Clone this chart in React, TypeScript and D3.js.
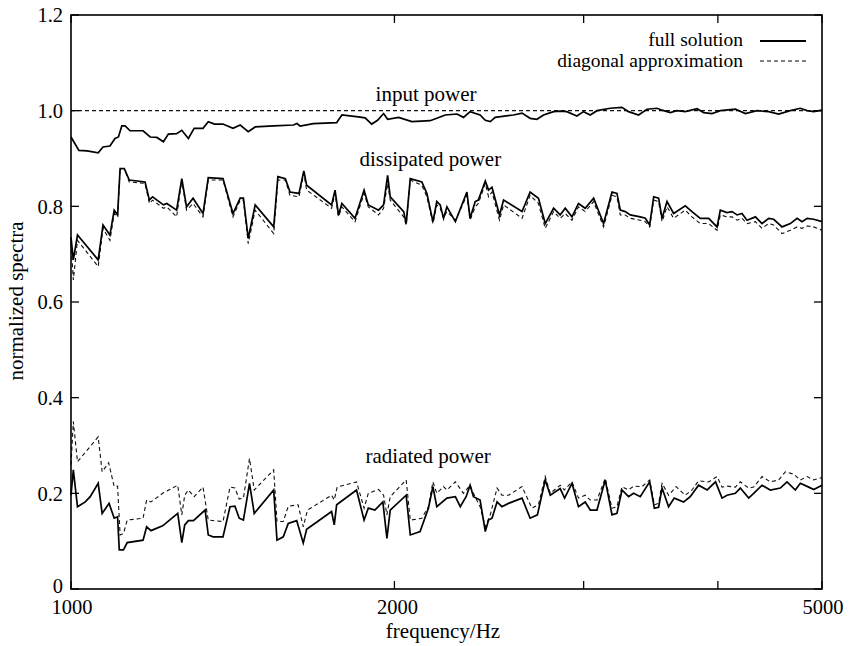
import React from "react";
import * as d3 from "d3";

// ---- data (frequency in Hz, normalized spectrum) ----
const inputFull: [number, number][] = [
  [1000,0.945],[1017,0.917],[1035,0.916],[1060,0.912],[1071,0.924],[1087,0.926],[1099,0.942],[1107,0.945],
  [1115,0.968],[1123,0.968],[1135,0.958],[1167,0.958],[1185,0.945],[1202,0.944],[1219,0.935],[1232,0.951],
  [1254,0.952],[1268,0.959],[1286,0.942],[1302,0.963],[1327,0.963],[1342,0.977],[1360,0.972],[1385,0.972],
  [1415,0.963],[1437,0.970],[1462,0.956],[1484,0.966],[1544,0.968],[1611,0.970],[1623,0.973],[1634,0.968],
  [1681,0.973],[1767,0.975],[1787,0.991],[1851,0.987],[1878,0.985],[1905,0.972],[1929,0.980],[1954,0.994],
  [1971,0.982],[2018,0.986],[2076,0.977],[2159,0.979],[2190,0.984],[2230,0.991],[2287,0.993],[2319,0.986],
  [2352,0.998],[2403,0.991],[2430,0.980],[2456,0.977],[2482,0.986],[2581,0.991],[2629,0.995],[2675,0.984],
  [2714,0.982],[2753,0.991],[2813,0.998],[2853,0.999],[2894,0.998],[2957,0.989],[2999,0.998],[3043,0.991],
  [3087,1.000],[3176,1.005],[3257,1.007],[3303,0.998],[3375,0.991],[3436,1.003],[3511,1.005],[3549,1.001],
  [3612,0.996],[3664,1.000],[3730,0.998],[3825,1.004],[3880,0.996],[3950,0.994],[4021,1.000],[4153,1.003],
  [4243,0.994],[4350,1.000],[4460,0.998],[4557,0.993],[4672,1.000],[4773,1.005],[4843,1.000],[4912,0.998],
  [5000,1.001]
];
const inputDiag: [number, number][] = [[1000,1.0],[5000,1.0]];

const dissFull: [number, number][] = [
  [1000,0.735],[1005,0.688],[1014,0.740],[1060,0.688],[1071,0.761],[1087,0.740],[1097,0.792],[1105,0.782],
  [1111,0.879],[1121,0.879],[1133,0.855],[1172,0.851],[1183,0.813],[1191,0.820],[1219,0.803],[1228,0.806],
  [1254,0.792],[1268,0.858],[1281,0.799],[1299,0.817],[1327,0.785],[1342,0.860],[1385,0.858],[1415,0.785],
  [1437,0.817],[1447,0.817],[1462,0.733],[1484,0.803],[1544,0.757],[1558,0.862],[1583,0.858],[1599,0.830],
  [1630,0.827],[1647,0.874],[1657,0.844],[1748,0.803],[1761,0.834],[1774,0.782],[1787,0.806],[1838,0.775],
  [1874,0.834],[1891,0.803],[1933,0.792],[1954,0.803],[1971,0.865],[1982,0.820],[2040,0.789],[2051,0.764],
  [2069,0.858],[2121,0.851],[2144,0.827],[2172,0.768],[2190,0.810],[2206,0.803],[2222,0.775],[2238,0.799],
  [2279,0.768],[2336,0.830],[2352,0.775],[2378,0.810],[2394,0.813],[2430,0.853],[2447,0.834],[2465,0.840],
  [2505,0.782],[2527,0.813],[2629,0.789],[2675,0.830],[2723,0.817],[2763,0.764],[2813,0.796],[2853,0.782],
  [2884,0.796],[2926,0.778],[2967,0.806],[3010,0.796],[3065,0.817],[3087,0.799],[3131,0.764],[3188,0.830],
  [3222,0.827],[3245,0.792],[3280,0.789],[3315,0.782],[3387,0.778],[3424,0.775],[3456,0.761],[3486,0.820],
  [3523,0.817],[3549,0.775],[3587,0.810],[3638,0.785],[3730,0.801],[3784,0.789],[3852,0.775],[3922,0.775],
  [3993,0.757],[4021,0.792],[4079,0.787],[4123,0.789],[4168,0.782],[4212,0.785],[4258,0.771],[4335,0.778],
  [4397,0.764],[4460,0.775],[4508,0.773],[4590,0.757],[4672,0.764],[4740,0.775],[4791,0.768],[4843,0.775],
  [4912,0.773],[5000,0.768]
];
const dissDiag: [number, number][] = [
  [1000,0.725],[1005,0.646],[1014,0.729],[1060,0.674],[1071,0.754],[1087,0.729],[1097,0.785],[1105,0.778],
  [1111,0.879],[1121,0.879],[1133,0.851],[1172,0.848],[1183,0.806],[1191,0.813],[1219,0.796],[1228,0.799],
  [1254,0.778],[1268,0.855],[1281,0.792],[1299,0.806],[1327,0.778],[1342,0.855],[1385,0.855],[1415,0.778],
  [1437,0.813],[1447,0.813],[1462,0.722],[1484,0.792],[1544,0.743],[1558,0.855],[1583,0.855],[1599,0.823],
  [1630,0.820],[1647,0.869],[1657,0.834],[1748,0.796],[1761,0.827],[1774,0.778],[1787,0.799],[1838,0.768],
  [1874,0.827],[1891,0.799],[1933,0.782],[1954,0.796],[1971,0.848],[1982,0.813],[2040,0.778],[2051,0.761],
  [2069,0.855],[2121,0.844],[2144,0.820],[2172,0.764],[2190,0.803],[2206,0.796],[2222,0.775],[2238,0.789],
  [2279,0.771],[2336,0.823],[2352,0.771],[2378,0.799],[2394,0.806],[2430,0.848],[2447,0.820],[2465,0.830],
  [2505,0.771],[2527,0.803],[2629,0.775],[2675,0.823],[2723,0.806],[2763,0.754],[2813,0.789],[2853,0.775],
  [2884,0.785],[2926,0.771],[2967,0.799],[3010,0.789],[3065,0.810],[3087,0.792],[3131,0.757],[3188,0.823],
  [3222,0.820],[3245,0.782],[3280,0.782],[3315,0.775],[3387,0.771],[3424,0.768],[3456,0.757],[3486,0.813],
  [3523,0.810],[3549,0.768],[3587,0.799],[3638,0.775],[3730,0.792],[3784,0.778],[3852,0.764],[3922,0.764],
  [3993,0.750],[4021,0.782],[4079,0.778],[4123,0.778],[4168,0.771],[4212,0.775],[4258,0.764],[4335,0.768],
  [4397,0.754],[4460,0.764],[4508,0.761],[4590,0.743],[4672,0.750],[4740,0.757],[4791,0.754],[4843,0.759],
  [4912,0.757],[5000,0.750]
];

const radFull: [number, number][] = [
  [1000,0.196],[1005,0.249],[1014,0.172],[1031,0.182],[1042,0.193],[1060,0.221],[1069,0.158],[1085,0.179],
  [1097,0.148],[1105,0.151],[1109,0.082],[1119,0.082],[1128,0.097],[1167,0.102],[1176,0.130],[1187,0.122],
  [1217,0.132],[1257,0.158],[1268,0.097],[1276,0.134],[1286,0.143],[1300,0.143],[1333,0.165],[1342,0.113],
  [1356,0.109],[1385,0.109],[1406,0.172],[1421,0.173],[1434,0.148],[1447,0.144],[1466,0.221],[1481,0.158],
  [1544,0.207],[1555,0.102],[1576,0.109],[1593,0.137],[1622,0.143],[1645,0.096],[1657,0.125],[1748,0.162],
  [1758,0.134],[1767,0.176],[1844,0.207],[1874,0.144],[1891,0.169],[1918,0.165],[1951,0.182],[1968,0.106],
  [1982,0.165],[2051,0.196],[2069,0.113],[2113,0.120],[2151,0.169],[2172,0.214],[2190,0.172],[2238,0.190],
  [2279,0.193],[2303,0.172],[2332,0.193],[2352,0.217],[2369,0.193],[2403,0.186],[2430,0.120],[2447,0.144],
  [2465,0.148],[2492,0.182],[2518,0.172],[2554,0.179],[2629,0.190],[2675,0.148],[2717,0.155],[2763,0.228],
  [2793,0.196],[2853,0.210],[2880,0.190],[2926,0.221],[2967,0.172],[3010,0.182],[3043,0.165],[3087,0.165],
  [3142,0.228],[3188,0.155],[3222,0.158],[3257,0.207],[3303,0.193],[3339,0.200],[3387,0.193],[3456,0.224],
  [3491,0.169],[3523,0.171],[3549,0.211],[3599,0.172],[3643,0.190],[3717,0.182],[3770,0.193],[3838,0.217],
  [3909,0.207],[3980,0.224],[4036,0.190],[4079,0.196],[4153,0.200],[4197,0.211],[4273,0.190],[4319,0.200],
  [4397,0.217],[4476,0.207],[4573,0.211],[4639,0.224],[4722,0.207],[4773,0.221],[4860,0.213],[4912,0.208],
  [5000,0.217]
];
const radDiag: [number, number][] = [
  [1000,0.260],[1005,0.350],[1014,0.266],[1060,0.318],[1069,0.245],[1084,0.264],[1097,0.214],[1105,0.215],
  [1111,0.113],[1119,0.116],[1128,0.144],[1167,0.148],[1176,0.186],[1187,0.182],[1217,0.200],[1257,0.217],
  [1268,0.155],[1276,0.196],[1286,0.207],[1302,0.193],[1327,0.213],[1342,0.144],[1385,0.141],[1406,0.213],
  [1421,0.211],[1434,0.188],[1447,0.190],[1466,0.273],[1481,0.207],[1544,0.249],[1555,0.141],[1576,0.141],
  [1593,0.173],[1627,0.176],[1645,0.130],[1660,0.165],[1748,0.196],[1758,0.186],[1769,0.213],[1844,0.224],
  [1874,0.169],[1891,0.200],[1933,0.208],[1954,0.196],[1968,0.155],[1982,0.193],[2051,0.228],[2069,0.144],
  [2121,0.148],[2151,0.172],[2172,0.224],[2190,0.200],[2222,0.214],[2238,0.207],[2279,0.224],[2319,0.200],
  [2352,0.217],[2369,0.200],[2403,0.172],[2430,0.130],[2456,0.155],[2492,0.211],[2518,0.196],[2554,0.196],
  [2629,0.214],[2685,0.169],[2723,0.176],[2763,0.235],[2793,0.200],[2853,0.217],[2878,0.207],[2926,0.224],
  [2967,0.190],[3010,0.196],[3043,0.186],[3087,0.186],[3142,0.231],[3188,0.169],[3222,0.172],[3257,0.214],
  [3303,0.207],[3339,0.215],[3400,0.214],[3456,0.228],[3491,0.176],[3523,0.179],[3549,0.221],[3599,0.196],
  [3657,0.214],[3730,0.196],[3784,0.207],[3838,0.226],[3922,0.224],[3993,0.235],[4036,0.213],[4079,0.215],
  [4153,0.213],[4197,0.224],[4273,0.211],[4319,0.213],[4397,0.235],[4476,0.224],[4557,0.228],[4622,0.245],
  [4706,0.240],[4773,0.228],[4843,0.235],[4912,0.228],[5000,0.233]
];

const xTickValues = [1000, 2000, 3000, 4000, 5000];
const xTickLabels = ["1000", "2000", "", "", "5000"];
const yTickValues = [0, 0.2, 0.4, 0.6, 0.8, 1.0, 1.2];
const yTickLabels = ["0", "0.2", "0.4", "0.6", "0.8", "1.0", "1.2"];
const legendLabels = ["full solution", "diagonal approximation"];
const curveLabels = ["input power", "dissipated power", "radiated power"];
const curveLabelPos: [number, number][] = [[2140, 1.02], [2160, 0.885], [2150, 0.264]];

const W = 849, H = 646;
const L = 71, R = 822, T = 15, B = 589;
const FONT = "'Liberation Serif', 'Times New Roman', serif";

export default function App() {
  const x = d3.scaleLog().domain([1000, 5000]).range([L, R]);
  const y = d3.scaleLinear().domain([0, 1.2]).range([B, T]);
  const line = d3.line<[number, number]>().x(d => x(d[0])).y(d => y(d[1]));

  const solid = [inputFull, dissFull, radFull];
  const dashed = [inputDiag, dissDiag, radDiag];
  const tickLen = 8;

  return (
    <svg width={W} height={H} style={{ position: "absolute", left: 0, top: 0, background: "#fff" }}
      fontFamily={FONT} fontSize={21}>
      <rect x={0} y={0} width={W} height={H} fill="#fff" />
      {dashed.map((s, i) => (
        <path key={"d" + i} d={line(s) || ""} fill="none" stroke="#111" strokeWidth={1.1} strokeDasharray="4,3" />
      ))}
      {solid.map((s, i) => (
        <path key={"s" + i} d={line(s) || ""} fill="none" stroke="#000" strokeWidth={1.7} strokeLinejoin="miter" />
      ))}
      {/* frame */}
      <rect x={L} y={T} width={R - L} height={B - T} fill="none" stroke="#000" strokeWidth={1.6} />
      {/* x ticks */}
      {xTickValues.map((v, i) => (
        <g key={"xt" + i}>
          <line x1={x(v)} x2={x(v)} y1={B} y2={B - tickLen} stroke="#000" strokeWidth={1.3} />
          <line x1={x(v)} x2={x(v)} y1={T} y2={T + tickLen} stroke="#000" strokeWidth={1.3} />
          {xTickLabels[i] && (
            <text x={x(v) + (i === 1 ? 3 : 1)} y={614} fontSize={20.5} textAnchor="middle">{xTickLabels[i]}</text>
          )}
        </g>
      ))}
      {/* y ticks */}
      {yTickValues.map((v, i) => (
        <g key={"yt" + i}>
          <line x1={L} x2={L + tickLen} y1={y(v)} y2={y(v)} stroke="#000" strokeWidth={1.3} />
          <line x1={R} x2={R - tickLen} y1={y(v)} y2={y(v)} stroke="#000" strokeWidth={1.3} />
          <text x={63} y={y(v) - (i === 0 ? 3 : 0)} dy="0.35em" fontSize={20.5} textAnchor="end">{yTickLabels[i]}</text>
        </g>
      ))}
      {/* axis titles */}
      <text x={443} y={638} textAnchor="middle">frequency/Hz</text>
      <text transform="translate(23,301) rotate(-90)" textAnchor="middle">normalized spectra</text>
      {/* curve labels */}
      {curveLabels.map((t, i) => (
        <text key={"cl" + i} x={x(curveLabelPos[i][0])} y={y(curveLabelPos[i][1])} textAnchor="middle">{t}</text>
      ))}
      {/* legend */}
      <text x={743} y={46} fontSize={19.5} textAnchor="end">{legendLabels[0]}</text>
      <line x1={760} x2={806} y1={41} y2={41} stroke="#000" strokeWidth={1.8} />
      <text x={743} y={67} fontSize={19.5} textAnchor="end">{legendLabels[1]}</text>
      <line x1={760} x2={806} y1={61} y2={61} stroke="#000" strokeWidth={1.1} strokeDasharray="4,3" />
    </svg>
  );
}
